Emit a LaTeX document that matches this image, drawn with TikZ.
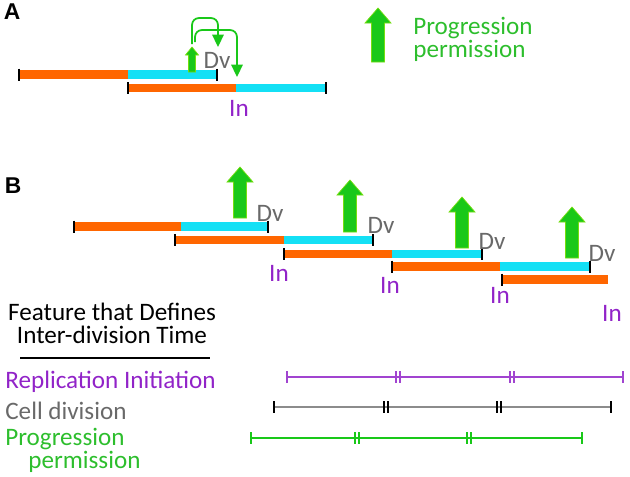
\documentclass[tikz,border=0pt]{standalone}
\usepackage{fontspec}
\setmainfont{Carlito}
\newfontfamily\panelfont{Liberation Sans}
\usetikzlibrary{arrows.meta}
\definecolor{cycorange}{RGB}{255,102,0}
\definecolor{cyccyan}{RGB}{20,224,245}
\definecolor{permgreen}{RGB}{25,200,25}
\definecolor{permtext}{RGB}{45,190,45}
\definecolor{initpurple}{RGB}{145,35,200}
\definecolor{divgray}{RGB}{105,105,105}
\tikzset{
  orangebar/.style={cycorange, line width=5pt},
  cyanbar/.style={cyccyan, line width=5pt},
  tickmark/.style={black, line width=1.1pt},
  permarrow/.style={fill=permgreen, draw=permgreen!60!yellow, line width=0.4pt},
  looparr/.style={permgreen, line width=1pt, rounded corners=4pt, -{Triangle[length=7pt,width=6.5pt]}},
  lbl/.style={font=\fontsize{14.3}{13.2}\selectfont, inner sep=0pt},
  panel/.style={font=\panelfont\bfseries\fontsize{13}{13}\selectfont, inner sep=0pt},
  timeline/.style={line width=1.1pt},
}
\begin{document}
\begin{tikzpicture}[x=0.02cm, y=-0.02cm]
  \useasboundingbox (0,0) rectangle (630,477);
  \node[panel] (labA) at (12,12) {A};
  \node[panel] (labB) at (13,186) {B};
  % panel A: two overlapping cycles
  \draw[orangebar] (19,74.5) -- (128,74.5);
  \draw[cyanbar] (128,74.5) -- (217,74.5);
  \draw[orangebar] (128,88) -- (236,88);
  \draw[cyanbar] (236,88) -- (326,88);
  \foreach \x/\y in {19/74.5, 217/74.5, 128/88, 326/88}
    \draw[tickmark] (\x,\y-6) -- (\x,\y+6);
  \draw[permarrow] (192,47) -- (198.5,55) -- (195.5,55) -- (195.5,72) -- (188.5,72) -- (188.5,55) -- (185.5,55) -- cycle;
  \node[lbl, text=divgray] (dvA) at (217,60) {Dv};
  \node[lbl, text=initpurple] (inA) at (239,108) {In};
  \coordinate (pA) at (192,44);
  \coordinate (pB) at (195,42);
  \coordinate (dvtop) at (218,47);
  \coordinate (junc) at (237,77);
  \draw[looparr] (pA) -- ++(0,-26) -| (dvtop);
  \draw[looparr] (pB) -- ++(0,-12) -| (junc);
  % legend
  \draw[permarrow] (378,8) -- (391,23) -- (384.5,23) -- (384.5,62) -- (371.5,62) -- (371.5,23) -- (365,23) -- cycle;
  \node[lbl, text=permtext, anchor=west, align=left] (legtext) at (413,39.5) {Progression\\permission};
  % panel B: successive cycles
  \foreach \y/\a/\b/\c in {226.5/74/181/268, 240/175/284/373, 254/284/392/482, 266.5/392/500/590}
  {
    \draw[orangebar] (\a,\y) -- (\b,\y);
    \draw[cyanbar] (\b,\y) -- (\c,\y);
    \draw[tickmark] (\a,\y-6) -- (\a,\y+6);
    \draw[tickmark] (\c,\y-6) -- (\c,\y+6);
  }
  \draw[orangebar] (502,279.5) -- (608,279.5);
  \draw[tickmark] (502,273.5) -- (502,285.5);
  \foreach \x/\t/\b in {240/167/218, 350/180/232, 462/197/248, 572/207/258}
    \draw[permarrow] (\x,\t) -- (\x+13,\t+15) -- (\x+6.5,\t+15) -- (\x+6.5,\b) -- (\x-6.5,\b) -- (\x-6.5,\t+15) -- (\x-13,\t+15) -- cycle;
  \node[lbl, text=divgray] (dv1) at (270,213) {Dv};
  \node[lbl, text=divgray] (dv2) at (381,225) {Dv};
  \node[lbl, text=divgray] (dv3) at (492,241) {Dv};
  \node[lbl, text=divgray] (dv4) at (602,253) {Dv};
  \node[lbl, text=initpurple] (in1) at (279,273) {In};
  \node[lbl, text=initpurple] (in2) at (390,285) {In};
  \node[lbl, text=initpurple] (in3) at (500,295) {In};
  \node[lbl, text=initpurple] (in4) at (612,313) {In};
  % feature table
  \node[lbl, align=center] (head) at (112,323) {Feature that Defines\\Inter-division Time};
  \draw[line width=1.1pt] (20,358) -- (210,358);
  \node[lbl, text=initpurple, anchor=west] (repl) at (5,382) {Replication Initiation};
  \node[lbl, text=divgray, anchor=west] (celldiv) at (5,411) {Cell division};
  \node[lbl, text=permtext, anchor=north west, align=left] (progr) at (5,428) {Progression\\\hspace{0.46cm}permission};
  \foreach \col/\tc/\y/\p/\q/\r/\s in {initpurple!85!white/initpurple!85!white/377/287/398/512/623,
                                       gray!90!white/black/407/274/386/499/611,
                                       permgreen/permgreen/438/251/357/469/582}
  {
    \draw[timeline, \col] (\p,\y) -- (\s,\y);
    \foreach \x in {\p,\s}
      \draw[timeline, \tc] (\x,\y-6) -- (\x,\y+6);
    \foreach \x in {\q,\r}
      {
        \draw[timeline, \tc] (\x-1.6,\y-6) -- (\x-1.6,\y+6);
        \draw[timeline, \tc] (\x+1.6,\y-6) -- (\x+1.6,\y+6);
      }
  }
\end{tikzpicture}
\end{document}
